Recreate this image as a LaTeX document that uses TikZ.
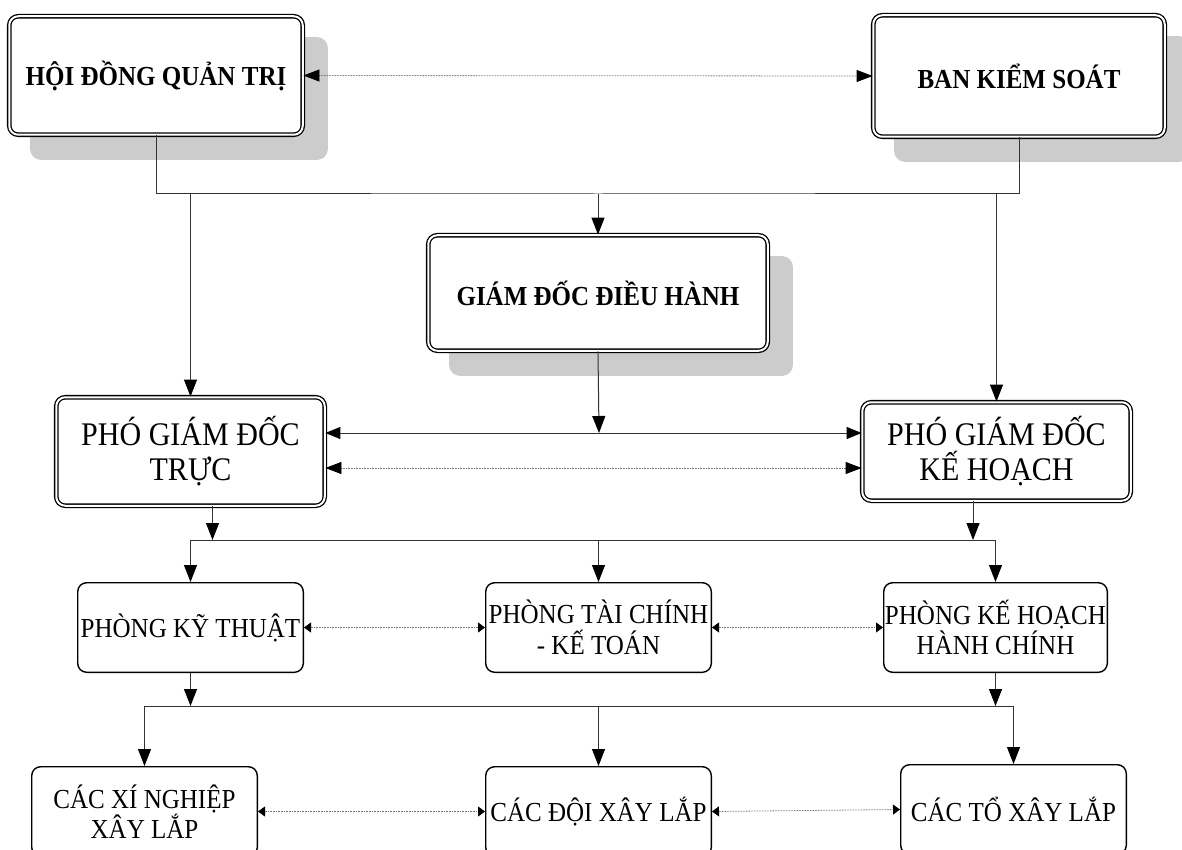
\documentclass[tikz,border=0pt]{standalone}
\usepackage{fontspec}
\setmainfont{Liberation Serif}[FakeStretch=0.91]
\usetikzlibrary{arrows.meta,shadows}

\tikzset{
    topbox/.style={draw, double=white, double distance=2pt, line width=1.3pt, rounded corners=9pt, fill=white, align=center, inner sep=0pt, font=\fontsize{27.5}{31}\selectfont\bfseries},
    boxshadow/.style={drop shadow={shadow xshift=23pt, shadow yshift=-23pt, fill=black!20, draw=black!20, line width=4.4pt, opacity=1}},
    vicebox/.style={draw, double=white, double distance=2pt, line width=1.3pt, rounded corners=9pt, fill=white, align=center, inner sep=0pt, font=\fontsize{33}{35}\selectfont},
    unitbox/.style={draw, line width=1.4pt, rounded corners=9pt, fill=white, align=center, inner sep=0pt, font=\fontsize{27.5}{30.5}\selectfont},
    link/.style={draw=black!80, line width=1pt},
    arr/.style={link, -{Triangle[length=17pt, width=13pt, color=black]}},
    twoarr/.style={link, {Triangle[length=15pt, width=12pt, color=black]}-{Triangle[length=15pt, width=12pt, color=black]}},
    bigdots/.style={draw=black!55, line width=0.8pt, dash pattern=on 0.8pt off 0.8pt, {Triangle[length=16pt, width=12pt, color=black]}-{Triangle[length=16pt, width=12pt, color=black]}},
    smalldots/.style={draw=black!55, line width=0.8pt, dash pattern=on 0.8pt off 0.8pt, {Triangle[length=7pt, width=10pt, color=black]}-{Triangle[length=7pt, width=10pt, color=black]}}
}

\begin{document}
\begin{tikzpicture}[x=1pt, y=-1pt]
            \useasboundingbox (0,0) rectangle (1182,850);
            \clip (0,0) rectangle (1182,850);

            \node [topbox, boxshadow, minimum width=293.5pt, minimum height=118.5pt] (hdqt) at (156,75.5) {HỘI ĐỒNG QUẢN TRỊ};
            \node [topbox, boxshadow, minimum width=291.5pt, minimum height=121.5pt] (bks) at (1019,76) {BAN KIỂM SOÁT};
            \node [topbox, boxshadow, minimum width=339.5pt, minimum height=115.5pt] (gddh) at (598,293) {GIÁM ĐỐC ĐIỀU HÀNH};

            \node [vicebox, minimum width=268.5pt, minimum height=108.5pt] (pgdtruc) at (190.5,451.5) {PHÓ GIÁM ĐỐC\\TRỰC};
            \node [vicebox, minimum width=268.5pt, minimum height=98.5pt] (pgdkh) at (996.5,451.5) {PHÓ GIÁM ĐỐC\\KẾ HOẠCH};

            \node [unitbox, minimum width=225.6pt, minimum height=89.6pt] (pkt) at (190.5,627.5) {PHÒNG KỸ THUẬT};
            \node [unitbox, minimum width=225.6pt, minimum height=89.6pt] (ptc) at (598.5,627.5) {PHÒNG TÀI CHÍNH\\- KẾ TOÁN};
            \node [unitbox, minimum width=223.6pt, minimum height=89.6pt] (pkh) at (995.5,627.5) {PHÒNG KẾ HOẠCH\\HÀNH CHÍNH};

            \node [unitbox, minimum width=225.6pt, minimum height=89.6pt] (cxn) at (144.5,811.5) {CÁC XÍ NGHIỆP\\XÂY LẮP};
            \node [unitbox, minimum width=225.6pt, minimum height=89.6pt] (cdoi) at (598.5,811.5) {CÁC ĐỘI XÂY LẮP};
            \node [unitbox, minimum width=225.6pt, minimum height=89.6pt] (cto) at (1013.5,809.5) {CÁC TỔ XÂY LẮP};

            \coordinate (bus1) at (598,194);
            \coordinate (mid1) at (599,433);
            \coordinate (mid2) at (599,468);
            \coordinate (bus2) at (598,540);
            \coordinate (bus3) at (598,706);

            \draw [bigdots] (hdqt.east) -- (bks.west);
            \draw [link] (hdqt.south) |- (bus1) -| (bks.south);
            \draw [arr] (bus1) -- (gddh.north);
            \draw [arr] (pgdtruc.north |- bus1) -- (pgdtruc.north);
            \draw [arr] (pgdkh.north |- bus1) -- (pgdkh.north);

            \draw [arr] (gddh.south) -- (mid1);
            \draw [twoarr] (pgdtruc.east |- mid1) -- (pgdkh.west |- mid1);
            \draw [bigdots] (pgdtruc.east |- mid2) -- (pgdkh.west |- mid2);

            \draw [arr] ([xshift=22pt]pgdtruc.south) -- ([xshift=22pt]pgdtruc.south |- bus2);
            \draw [arr] ([xshift=-23.5pt]pgdkh.south) -- ([xshift=-23.5pt]pgdkh.south |- bus2);
            \draw [link] (pkt.north |- bus2) -- (pkh.north |- bus2);
            \foreach \room in {pkt, ptc, pkh}
            {
                \draw [arr] (\room.north |- bus2) -- (\room.north);
            }
            \draw [smalldots] (pkt.east) -- (ptc.west);
            \draw [smalldots] (ptc.east) -- (pkh.west);

            \draw [arr] (pkt.south) -- (pkt.south |- bus3);
            \draw [arr] (pkh.south) -- (pkh.south |- bus3);
            \draw [link] (cxn.north |- bus3) -- (cto.north |- bus3);
            \foreach \team in {cxn, cdoi, cto}
            {
                \draw [arr] (\team.north |- bus3) -- (\team.north);
            }
            \draw [smalldots] (cxn.east) -- (cdoi.west);
            \draw [smalldots] (cdoi.east) -- (cto.west);

\end{tikzpicture}
\end{document}
